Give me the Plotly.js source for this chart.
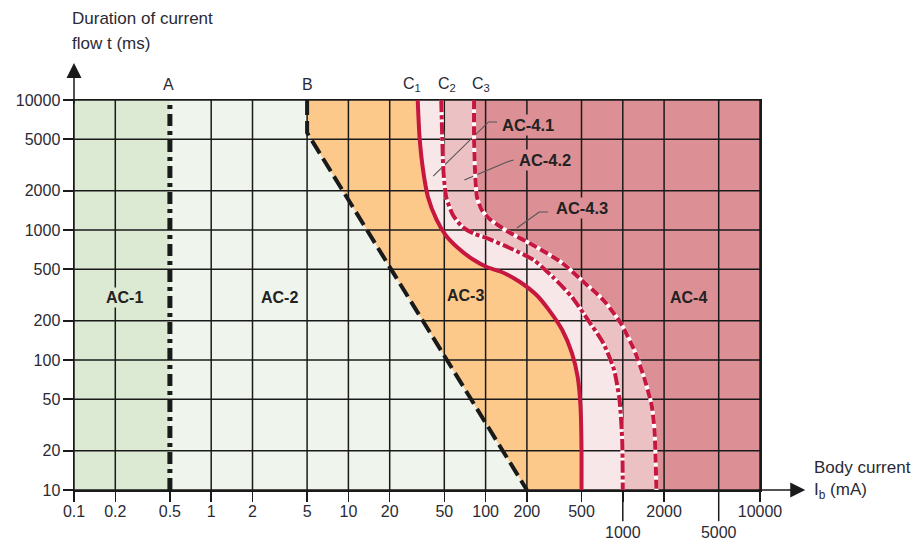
<!DOCTYPE html>
<html><head><meta charset="utf-8">
<script src="https://cdn.plot.ly/plotly-3.0.1.min.js"></script>
<style>html,body{margin:0;padding:0;background:#fff}#chart{width:916px;height:541px}</style>
</head><body><div id="chart"></div>
<script>
// ---- tick values / labels ----
const xTicks = [0.1,0.2,0.5,1,2,5,10,20,50,100,200,500,1000,2000,5000,10000];
const xTickText = ['0.1','0.2','0.5','1','2','5','10','20','50','100','200','500','<br>1000','2000','<br>5000','10000'];
const xLowTicks = [1000, 5000];
const yTicks = [10,20,50,100,200,500,1000,2000,5000,10000];
const yTickText = ['10','20','50','100','200','500','1000','2000','5000','10000'];

// ---- boundary curves: body current (mA) vs duration (ms) ----
const curveA_x = [0.5, 0.5];
const curveA_y = [10, 10000];
const curveB_x = [5, 5, 200];
const curveB_y = [10000, 5600, 10];
const curveC1_x = [32,33,35,38,44,51,63,80,102,136,178,235,289,362,426,469,492,500,500];
const curveC1_y = [10000,5190,2900,1794,1194,916,727,598,519,467,398,316,243,170,113,74,43.5,20,10];
const curveC2_x = [47.5,48.3,49.2,51.6,57.8,67.9,83.7,102,150,224,309,426,558,720,864,947,990,1000];
const curveC2_y = [10000,5190,2900,1794,1303,1054,931,867,727,588,435,305,203,135,84,49,24.3,10];
const curveC3_x = [82.4,82.4,83.7,86.5,93.8,107,143,235,362,500,720,964,1213,1426,1622,1702,1758];
const curveC3_y = [10000,5190,2900,1794,1426,1216,983,740,558,412,290,193,119,74,45,29,10];

// ---- zone labels ----
const zoneNames = ['AC-1','AC-2','AC-3','AC-4'];
const zoneX = [0.232, 3.14, 71, 3000];
const zoneY = [305, 305, 316, 305];
const subNames = ['AC-4.1','AC-4.2','AC-4.3'];
const subTextX = [128, 169, 314];
const subTextY = [6426, 3450, 1476];
const leaderX = [[41.5,105,121],[70,143,160],[169,246,285]];
const leaderY = [[2600,6780,6780],[2427,3334,3450],[1035,1375,1375]];

const xMin = xTicks[0], xMax = xTicks[xTicks.length-1];
const yMin = yTicks[0], yMax = yTicks[yTicks.length-1];

const colAC1 = '#dce9d3', colAC2 = '#eff5ec', colAC3 = '#fdc98b',
      colAC41 = '#f7e7e8', colAC42 = '#ecc1c4', colAC4 = '#dc9096',
      crimson = '#c5173f', ink = '#1a1a1a', txt = '#2a2a35';
const FONT = 'Liberation Sans, Arial, sans-serif';

function rightRegion(cx, cy, color) {
  return {x: cx.concat([xMax, xMax]), y: cy.concat([yMin, yMax]), mode:'lines',
    fill:'toself', fillcolor:color, line:{width:0}, hoverinfo:'skip', showlegend:false};
}

const traces = [];
// AC-1 zone
traces.push({x:[xMin, curveA_x[0], curveA_x[0], xMin], y:[yMin, yMin, yMax, yMax], mode:'lines',
  fill:'toself', fillcolor:colAC1, line:{width:0}, hoverinfo:'skip', showlegend:false});
traces.push(rightRegion(curveB_x, curveB_y, colAC3));
traces.push(rightRegion(curveC1_x, curveC1_y, colAC41));
traces.push(rightRegion(curveC2_x, curveC2_y, colAC42));
traces.push(rightRegion(curveC3_x, curveC3_y, colAC4));

// grid lines (drawn above the fills)
const gx = [], gy = [];
xTicks.forEach(v => { if (v !== curveA_x[0]) { gx.push(v, v, null); gy.push(yMin, yMax, null); } });
yTicks.forEach(v => { gx.push(xMin, xMax, null); gy.push(v, v, null); });
traces.push({x:gx, y:gy, mode:'lines', line:{color:ink, width:1.5}, hoverinfo:'skip', showlegend:false, connectgaps:false});

// leader lines
leaderX.forEach((lx, i) => traces.push({x:lx, y:leaderY[i], mode:'lines',
  line:{color:'#555', width:1.1}, hoverinfo:'skip', showlegend:false}));

// boundary curves
traces.push({x:curveA_x, y:curveA_y, mode:'lines', line:{color:ink, width:5, dash:'12px,5px,4px,5px'}, showlegend:false});
traces.push({x:curveB_x, y:curveB_y, mode:'lines', line:{color:ink, width:4, dash:'15px,6px'}, showlegend:false});
traces.push({x:curveC1_x, y:curveC1_y, mode:'lines', line:{color:crimson, width:4, shape:'spline', smoothing:0.6}, showlegend:false});
traces.push({x:curveC2_x, y:curveC2_y, mode:'lines', line:{color:'#ffffff', width:4, shape:'spline', smoothing:0.6}, showlegend:false});
traces.push({x:curveC2_x, y:curveC2_y, mode:'lines', line:{color:crimson, width:4, dash:'12px,3px,4px,3px', shape:'spline', smoothing:0.6}, showlegend:false});
traces.push({x:curveC3_x, y:curveC3_y, mode:'lines', line:{color:'#ffffff', width:4, shape:'spline', smoothing:0.6}, showlegend:false});
traces.push({x:curveC3_x, y:curveC3_y, mode:'lines', line:{color:crimson, width:4, dash:'9px,4px', shape:'spline', smoothing:0.6}, showlegend:false});

const L = Math.log10;
const annotations = [];
// axis titles
annotations.push({xref:'paper', yref:'paper', x:-0.006, y:1.21, xanchor:'left', yanchor:'middle', showarrow:false,
  text:'Duration of current', font:{size:17, color:txt, family:FONT}});
annotations.push({xref:'paper', yref:'paper', x:-0.006, y:1.144, xanchor:'left', yanchor:'middle', showarrow:false,
  text:'flow t (ms)', font:{size:17, color:txt, family:FONT}});
annotations.push({xref:'paper', yref:'paper', x:1.076, y:0.057, xanchor:'left', yanchor:'middle', showarrow:false,
  text:'Body current', font:{size:17, color:txt, family:FONT}});
annotations.push({xref:'paper', yref:'paper', x:1.076, y:-0.002, xanchor:'left', yanchor:'middle', showarrow:false,
  text:'I<sub>b</sub> (mA)', font:{size:17, color:txt, family:FONT}});
// axis arrows
annotations.push({xref:'paper', yref:'paper', x:0, y:1.095, ax:0, ay:42, text:'', showarrow:true,
  arrowhead:2, arrowsize:2, arrowwidth:1.5, arrowcolor:ink});
annotations.push({xref:'paper', yref:'paper', x:1.066, y:0, ax:-48, ay:0, text:'', showarrow:true,
  arrowhead:2, arrowsize:2, arrowwidth:1.5, arrowcolor:ink});
// curve labels
const curveLabels = [['A', curveA_x[0], -1], ['B', curveB_x[0], 0], ['C<sub>1</sub>', curveC1_x[0], -6],
                     ['C<sub>2</sub>', curveC2_x[0], 6], ['C<sub>3</sub>', curveC3_x[0], 7]];
curveLabels.forEach(c => annotations.push({xref:'x', yref:'paper', x:L(c[1]), y:1.04, xshift:c[2],
  xanchor:'center', yanchor:'middle', showarrow:false, text:c[0], font:{size:16, color:txt, family:FONT}}));
// zone labels
const zoneBg = [colAC1, null, null, null];
zoneNames.forEach((n, i) => {
  const a = {xref:'x', yref:'y', x:L(zoneX[i]), y:L(zoneY[i]), showarrow:false, text:'<b>'+n+'</b>',
    font:{size:16, color:'#222', family:FONT}, borderpad:1};
  if (zoneBg[i]) a.bgcolor = zoneBg[i];
  annotations.push(a);
});
subNames.forEach((n, i) => annotations.push({xref:'x', yref:'y', x:L(subTextX[i]), y:L(subTextY[i]),
  xanchor:'left', showarrow:false, text:'<b>'+n+'</b>', bgcolor:colAC4, borderpad:1,
  font:{size:16.5, color:'#222', family:FONT}}));

// longer ticks for the staggered labels
const shapes = xLowTicks.map(v => ({type:'line', xref:'x', yref:'paper', x0:v, x1:v, y0:0, y1:-0.08,
  line:{color:ink, width:1.5}}));

const axisCommon = {type:'log', showgrid:false, zeroline:false, showline:true, mirror:true,
  linecolor:ink, linewidth:1.5, ticks:'outside', ticklen:10, tickwidth:1.5, tickcolor:ink,
  tickfont:{size:16, color:txt, family:FONT}, fixedrange:true, automargin:false};

const layout = {
  width:916, height:541,
  margin:{l:74, r:156, t:100, b:51},
  paper_bgcolor:'#ffffff', plot_bgcolor:colAC2,
  font:{family:FONT},
  xaxis:Object.assign({}, axisCommon, {range:[L(xMin), L(xMax)], tickmode:'array', tickvals:xTicks, ticktext:xTickText, tickangle:0, ticklabelstandoff:-4}),
  yaxis:Object.assign({}, axisCommon, {range:[L(yMin), L(yMax)], tickmode:'array', tickvals:yTicks, ticktext:yTickText, ticklabelstandoff:-1}),
  annotations:annotations, shapes:shapes, showlegend:false, hovermode:false
};

Plotly.newPlot('chart', traces, layout, {displayModeBar:false, staticPlot:true});
</script></body></html>
